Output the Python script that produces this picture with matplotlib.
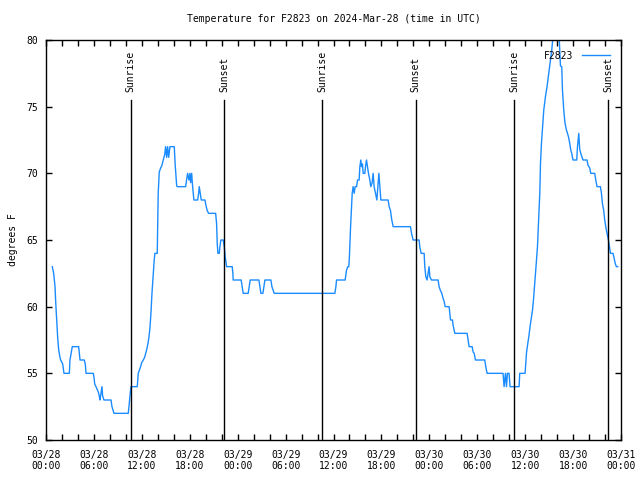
from matplotlib import pyplot as pl
import matplotlib.dates as mdates
import pandas as pd
import numpy as np

# Hours after 2024-03-28 00:00 UTC and temperature (F)
hours = [
    0.79, 0.96, 1.13, 1.21, 1.34, 1.46, 1.59, 1.75, 1.84, 2.09, 2.25, 2.92,
    3.0, 3.29, 4.09, 4.17, 4.26, 4.79, 4.92, 5.01, 5.92, 6.01, 6.1, 6.26,
    6.55, 6.67, 6.76, 7.01, 7.09, 7.26, 8.14, 8.26, 8.51, 10.3, 10.43, 10.51,
    10.64, 10.76, 11.43, 11.55, 11.85, 11.98, 12.18, 12.35, 12.6, 12.77,
    12.89, 13.02, 13.14, 13.27, 13.43, 13.55, 13.64, 13.93, 13.98, 14.05,
    14.18, 14.36, 14.52, 14.68, 14.86, 14.98, 15.11, 15.23, 15.36, 15.52,
    16.06, 16.18, 16.36, 16.43, 17.48, 17.61, 17.73, 17.9, 18.02, 18.11,
    18.24, 18.36, 18.52, 18.99, 19.11, 19.19, 19.31, 19.44, 19.9, 20.03,
    20.19, 20.36, 21.24, 21.36, 21.44, 21.53, 21.69, 21.78, 21.9, 22.19,
    22.32, 22.44, 22.62, 23.32, 23.4, 23.44, 24.44, 24.57, 24.69, 25.32,
    25.44, 25.57, 26.66, 26.78, 26.91, 27.16, 27.28, 27.41, 28.16, 28.29,
    28.57, 36.17, 36.3, 36.38, 37.46, 37.55, 37.63, 37.8, 37.92, 38.01,
    38.14, 38.26, 38.34, 38.46, 38.59, 38.71, 38.89, 39.01, 39.21, 39.3,
    39.42, 39.51, 39.63, 39.71, 39.92, 40.01, 40.13, 40.26, 40.38, 40.55,
    40.67, 40.84, 40.96, 41.09, 41.43, 41.55, 41.68, 41.8, 41.93, 42.84,
    42.97, 43.14, 43.27, 43.47, 45.64, 45.77, 45.97, 46.72, 46.8, 46.97,
    47.35, 47.43, 47.56, 47.72, 47.85, 47.97, 48.06, 48.27, 49.1, 49.22,
    49.4, 49.56, 49.73, 49.85, 49.98, 50.48, 50.56, 50.65, 50.9, 50.98,
    51.19, 52.73, 52.86, 52.98, 53.36, 53.48, 53.61, 53.78, 54.94, 55.07,
    55.23, 57.23, 57.36, 57.53, 57.66, 57.78, 57.98, 58.11, 59.24, 59.32,
    59.99, 60.08, 60.17, 60.33, 60.46, 60.61, 60.79, 60.92, 61.04, 61.17,
    61.29, 61.42, 61.54, 61.67, 61.83, 61.92, 62.04, 62.17, 62.33, 62.54,
    62.74, 62.95, 63.17, 63.33, 63.49, 63.71, 64.02, 64.25, 64.33, 64.42,
    64.58, 64.67, 64.83, 64.99, 65.17, 65.29, 65.42, 65.58, 65.71, 65.83,
    65.99, 66.46, 66.55, 66.71, 66.83, 66.96, 67.24, 67.75, 67.87, 68.09,
    68.21, 68.71, 68.84, 69.0, 69.42, 69.55, 69.67, 69.84, 69.96, 70.09,
    70.25, 70.43, 70.56, 70.68, 71.0, 71.12, 71.25, 71.42, 71.59,
]
temps = [
    63, 62.5, 61.5, 60.4, 59, 57.7, 56.75, 56.2, 56, 55.7, 55, 55,
    56, 57, 57, 56.5, 56, 56, 55.7, 55, 55, 54.7, 54.2, 54,
    53.6, 53.3, 53, 54, 53.3, 53, 53, 52.5, 52, 52, 52.75, 53.3,
    54, 54, 54, 55, 55.5, 55.8, 56, 56.2, 56.75, 57.25,
    57.7, 58.45, 59.5, 61, 62.5, 63.5, 64, 64, 65.75, 68.5,
    70.1, 70.4, 70.6, 71, 71.4, 72, 71.2, 72, 71.2, 72,
    72, 70.6, 69.1, 69, 69, 69.5, 70, 69.5, 70, 69.3,
    70, 69, 68, 68, 68.5, 69, 68.5, 68, 68, 67.6,
    67.2, 67, 67, 66.25, 64.75, 64, 64, 64.5, 65, 65,
    64.5, 63.75, 63, 63, 62.5, 62, 62, 61.5, 61, 61,
    61.5, 62, 62, 61.5, 61, 61, 61.5, 62, 62, 61.5,
    61, 61, 61.5, 62, 62, 62.4, 62.75, 63, 63, 64,
    66, 67.5, 68.5, 69, 68.5, 69, 69, 69.5, 69.5, 70.5,
    71, 70.5, 70.7, 70, 70, 70.5, 71, 70.5, 70, 69.5,
    69, 69.3, 70, 69, 68, 69, 70, 69, 68, 68,
    67.5, 67.2, 66.6, 66, 66, 65.5, 65, 65, 64.5, 64,
    64, 63, 62.25, 62, 62.5, 63, 62.25, 62, 62, 61.5,
    61.2, 61, 60.6, 60.4, 60, 60, 59.5, 59, 59, 58.6,
    58, 58, 57.5, 57, 57, 56.6, 56.5, 56, 56, 55.5,
    55, 55, 54, 55, 54, 55, 55, 54, 54, 55,
    55, 55.75, 56.55, 57.25, 57.75, 58.5, 59.25, 59.75, 60.5, 61.5,
    62.5, 63.5, 64.5, 66.25, 68.5, 70.75, 72.25, 73.4, 74.75, 75.75,
    76.5, 77.5, 78.5, 79.25, 80.3, 81, 81, 80.3, 79.25, 78.05,
    78, 76.25, 74.75, 73.75, 73.25, 73, 72.75, 72.25, 71.75, 71.5,
    71, 71, 72, 73, 71.8, 71.5, 71, 71, 70.6, 70.4,
    70, 70, 69.5, 69, 69, 68.5, 67.75, 67.2, 66.5, 66,
    65.5, 65, 64.5, 64, 64, 63.7, 63.3, 63, 63,
]

sunrise = ['2024-03-28 10:37', '2024-03-29 10:36', '2024-03-30 10:36']
sunset = ['2024-03-28 22:19', '2024-03-29 22:18', '2024-03-30 22:22']

start = pd.Timestamp('2024-03-28 00:00')
times = [start + pd.Timedelta(hours=h) for h in hours]

font = 'DejaVu Sans Mono'
fs = 7
blue = '#1a8cff'

fig = pl.figure(figsize=(6.4, 4.8), dpi=100)
ax = fig.add_axes([46/640, 40/480, 575/640, 400/480])

ax.plot(times, temps, color=blue, lw=1.0, label='F2823')

# Sunrise / sunset markers
trans = ax.get_xaxis_transform()
for name, events in (('Sunrise', sunrise), ('Sunset', sunset)):
    for t in events:
        t = pd.Timestamp(t)
        ax.plot([t, t], [0, 0.85], color='k', lw=1.0, transform=trans)
        ax.text(t, 0.87, name, rotation=90, ha='center', va='bottom',
                transform=trans, family=font, fontsize=fs)

ax.set_xlim(pd.Timestamp('2024-03-28 00:00'), pd.Timestamp('2024-03-31 00:00'))
ax.set_ylim(50, 80)
ax.set_yticks(np.arange(50, 81, 5))

ax.xaxis.set_major_locator(mdates.HourLocator(byhour=[0, 6, 12, 18]))
ax.xaxis.set_minor_locator(mdates.HourLocator(byhour=range(0, 24, 2)))
ax.xaxis.set_major_formatter(mdates.DateFormatter('%m/%d\n%H:%M'))

ax.tick_params(which='both', direction='in', top=True, right=True,
               length=4, width=1.0, labelsize=fs)
ax.tick_params(axis='x', pad=7)
ax.tick_params(axis='y', pad=6)
for lab in ax.get_xticklabels() + ax.get_yticklabels():
    lab.set_family(font)
for s in ax.spines.values():
    s.set_linewidth(1.0)

ax.set_ylabel('degrees F', family=font, fontsize=fs, labelpad=6)
ax.set_title('Temperature for F2823 on 2024-Mar-28 (time in UTC)',
             family=font, fontsize=fs, pad=13)

ax.legend(loc='upper right', frameon=False, markerfirst=False,
          handlelength=2.9, handletextpad=0.9, borderaxespad=0.7,
          prop={'family': font, 'size': fs})

fig.savefig('out.png', dpi=100)
